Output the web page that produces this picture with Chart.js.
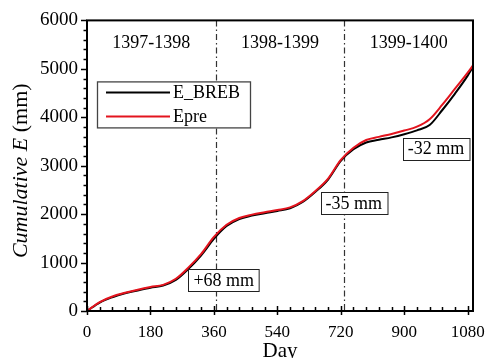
<!DOCTYPE html>
<html>
<head>
<meta charset="utf-8">
<script src="https://cdn.jsdelivr.net/npm/chart.js@4/dist/chart.umd.min.js"></script>
<style>
  html, body { margin: 0; padding: 0; background: #fff; }
</style>
</head>
<body>
<canvas id="myChart" width="485" height="358"></canvas>
<script>
// cumulative evaporation over three water years (days since start)
const days  = [0, 36, 72, 108, 144, 180, 216, 252, 288, 324, 360, 396, 432, 468, 504, 540,
               576, 612, 648, 684, 720, 756, 792, 828, 864, 900, 936, 972, 1008, 1044, 1080, 1095];
const eBreb = [0, 175, 285, 365, 425, 480, 525, 640, 870, 1150, 1490, 1755, 1900, 1970, 2020, 2065,
               2120, 2250, 2460, 2715, 3100, 3340, 3480, 3535, 3585, 3650, 3730, 3840, 4150, 4490, 4860, 5040];
const ePre  = [0, 185, 300, 375, 440, 495, 540, 665, 900, 1180, 1530, 1780, 1920, 1990, 2040, 2085,
               2140, 2270, 2480, 2735, 3120, 3370, 3530, 3595, 3655, 3725, 3805, 3960, 4260, 4590, 4920, 5070];

const seriesNames = ["E_BREB", "Epre"];
const seriesColors = ["#000000", "#e3141e"];

const xTicks = [0, 180, 360, 540, 720, 900, 1080];
const yTicks = [0, 1000, 2000, 3000, 4000, 5000, 6000];

// water years, their boundaries and the yearly difference notes
const yearNames = ["1397-1398", "1398-1399", "1399-1400"];
const yearMids = [182.5, 547.5, 912.5];
const yearBounds = [365, 730];
const diffLabels = ["+68 mm", "-35 mm", "-32 mm"];
const diffDays = [388, 757, 990];
const diffVals = [640, 2220, 3350];

const serif = '"Liberation Serif", "Times New Roman", serif';

function toPoints(xs, ys) {
    return xs.map((x, i) => ({ x: x, y: ys[i] }));
}

// frame, tick marks, year labels, note boxes, legend and y title
const decorations = {
    id: "decorations",
    beforeDatasetsDraw(chart) {
        const { ctx, chartArea, scales } = chart;
        ctx.save();
        ctx.strokeStyle = "#333";
        ctx.lineWidth = 1.2;
        ctx.setLineDash([6, 3, 1.5, 3]);
        for (const d of yearBounds) {
            const px = Math.round(scales.x.getPixelForValue(d)) + 0.5;
            ctx.beginPath();
            ctx.moveTo(px, chartArea.top);
            ctx.lineTo(px, chartArea.bottom);
            ctx.stroke();
        }
        ctx.restore();
    },
    afterDatasetsDraw(chart) {
        const { ctx, chartArea, scales } = chart;
        const xs = scales.x, ys = scales.y;
        ctx.save();

        // plot frame
        ctx.strokeStyle = "#000";
        ctx.lineWidth = 2;
        ctx.strokeRect(chartArea.left, chartArea.top, chartArea.right - chartArea.left, chartArea.bottom - chartArea.top);

        // y ticks: major every 1000, minor every 200, pointing out
        ctx.lineWidth = 1.5;
        for (let v = 0; v <= 6000; v += 200) {
            const py = Math.round(ys.getPixelForValue(v)) + 0.5;
            const len = v % 1000 === 0 ? 6 : 3.5;
            ctx.beginPath();
            ctx.moveTo(chartArea.left - len, py);
            ctx.lineTo(chartArea.left, py);
            ctx.stroke();
        }
        // x ticks: major every 180 across the axis, minor every 36 inside
        for (let d = 0; d <= 1080; d += 36) {
            const px = Math.round(xs.getPixelForValue(d)) + 0.5;
            const major = d % 180 === 0;
            ctx.beginPath();
            ctx.moveTo(px, chartArea.bottom + (major ? 4 : 0));
            ctx.lineTo(px, chartArea.bottom - (major ? 5 : 4));
            ctx.stroke();
        }

        // year names
        ctx.fillStyle = "#000";
        ctx.font = "18px " + serif;
        ctx.textAlign = "center";
        ctx.textBaseline = "middle";
        yearNames.forEach((t, i) => {
            ctx.fillText(t, xs.getPixelForValue(yearMids[i]), ys.getPixelForValue(5530));
        });

        // difference notes in boxes
        ctx.lineWidth = 1;
        ctx.strokeStyle = "#222";
        diffLabels.forEach((t, i) => {
            const cx = xs.getPixelForValue(diffDays[i]);
            const cy = ys.getPixelForValue(diffVals[i]);
            const w = ctx.measureText(t).width + 10;
            const h = 22;
            const bx = Math.round(cx - w / 2) + 0.5, by = Math.round(cy - h / 2) + 0.5;
            ctx.fillStyle = "#fff";
            ctx.fillRect(bx, by, w, h);
            ctx.strokeRect(bx, by, w, h);
            ctx.fillStyle = "#000";
            ctx.fillText(t, cx, cy + 1);
        });

        // legend
        const lx = chartArea.left + 10, ly = chartArea.top + 61;
        ctx.lineWidth = 1.3;
        ctx.strokeStyle = "#444";
        ctx.fillStyle = "#fff";
        ctx.fillRect(lx, ly, 153, 46);
        ctx.strokeRect(lx + 0.5, ly + 0.5, 153, 46);
        ctx.textAlign = "left";
        chart.data.datasets.forEach((ds, i) => {
            const yy = ly + 11 + i * 24;
            ctx.strokeStyle = ds.borderColor;
            ctx.lineWidth = 2;
            ctx.beginPath();
            ctx.moveTo(lx + 9, yy);
            ctx.lineTo(lx + 73, yy);
            ctx.stroke();
            ctx.fillStyle = "#000";
            ctx.fillText(ds.label, lx + 76, yy + 1);
        });

        // y axis title with italic quantity
        const parts = [["Cumulative ", "italic 22px " + serif], ["E", "italic 22px " + serif], [" (mm)", "22px " + serif]];
        let total = 0;
        for (const p of parts) { ctx.font = p[1]; total += ctx.measureText(p[0]).width; }
        ctx.translate(21, (chartArea.top + chartArea.bottom) / 2 + 5);
        ctx.rotate(-Math.PI / 2);
        ctx.textAlign = "left";
        ctx.fillStyle = "#000";
        let off = -total / 2;
        for (const p of parts) {
            ctx.font = p[1];
            ctx.fillText(p[0], off, 0);
            off += ctx.measureText(p[0]).width;
        }
        ctx.restore();
    }
};

const myChart = new Chart("myChart", {
    type: "line",
    data: {
        datasets: [
            {
                label: seriesNames[0],
                data: toPoints(days, eBreb),
                borderColor: seriesColors[0],
                borderWidth: 2,
                pointRadius: 0,
                cubicInterpolationMode: "monotone",
                order: 1
            },
            {
                label: seriesNames[1],
                data: toPoints(days, ePre),
                borderColor: seriesColors[1],
                borderWidth: 2,
                pointRadius: 0,
                cubicInterpolationMode: "monotone",
                order: 0
            }
        ]
    },
    options: {
        responsive: false,
        animation: false,
        devicePixelRatio: 1,
        layout: { padding: { left: 0, right: 12, top: 19, bottom: 0 } },
        plugins: {
            legend: { display: false },
            tooltip: { enabled: false }
        },
        scales: {
            x: {
                type: "linear",
                min: 0,
                max: 1095,
                afterBuildTicks: s => { s.ticks = xTicks.map(v => ({ value: v })); },
                afterFit: s => { s.height = 47; s.paddingRight = 0; s.paddingLeft = 0; },
                grid: { display: false, drawTicks: false },
                border: { display: false },
                ticks: { color: "#000", font: { family: serif, size: 17 }, padding: 11, maxRotation: 0, autoSkip: false,
                         callback: v => String(v) },
                title: { display: true, text: "Day", color: "#000", font: { family: serif, size: 21 }, padding: { top: 0, bottom: -6 } }
            },
            y: {
                min: 0,
                max: 6000,
                afterBuildTicks: s => { s.ticks = yTicks.map(v => ({ value: v })); },
                afterFit: s => { s.width = 87; },
                grid: { display: false, drawTicks: false },
                border: { display: false },
                ticks: { color: "#000", font: { family: serif, size: 19 }, padding: 9, callback: v => String(v) }
            }
        }
    },
    plugins: [decorations]
});
</script>
</body>
</html>
